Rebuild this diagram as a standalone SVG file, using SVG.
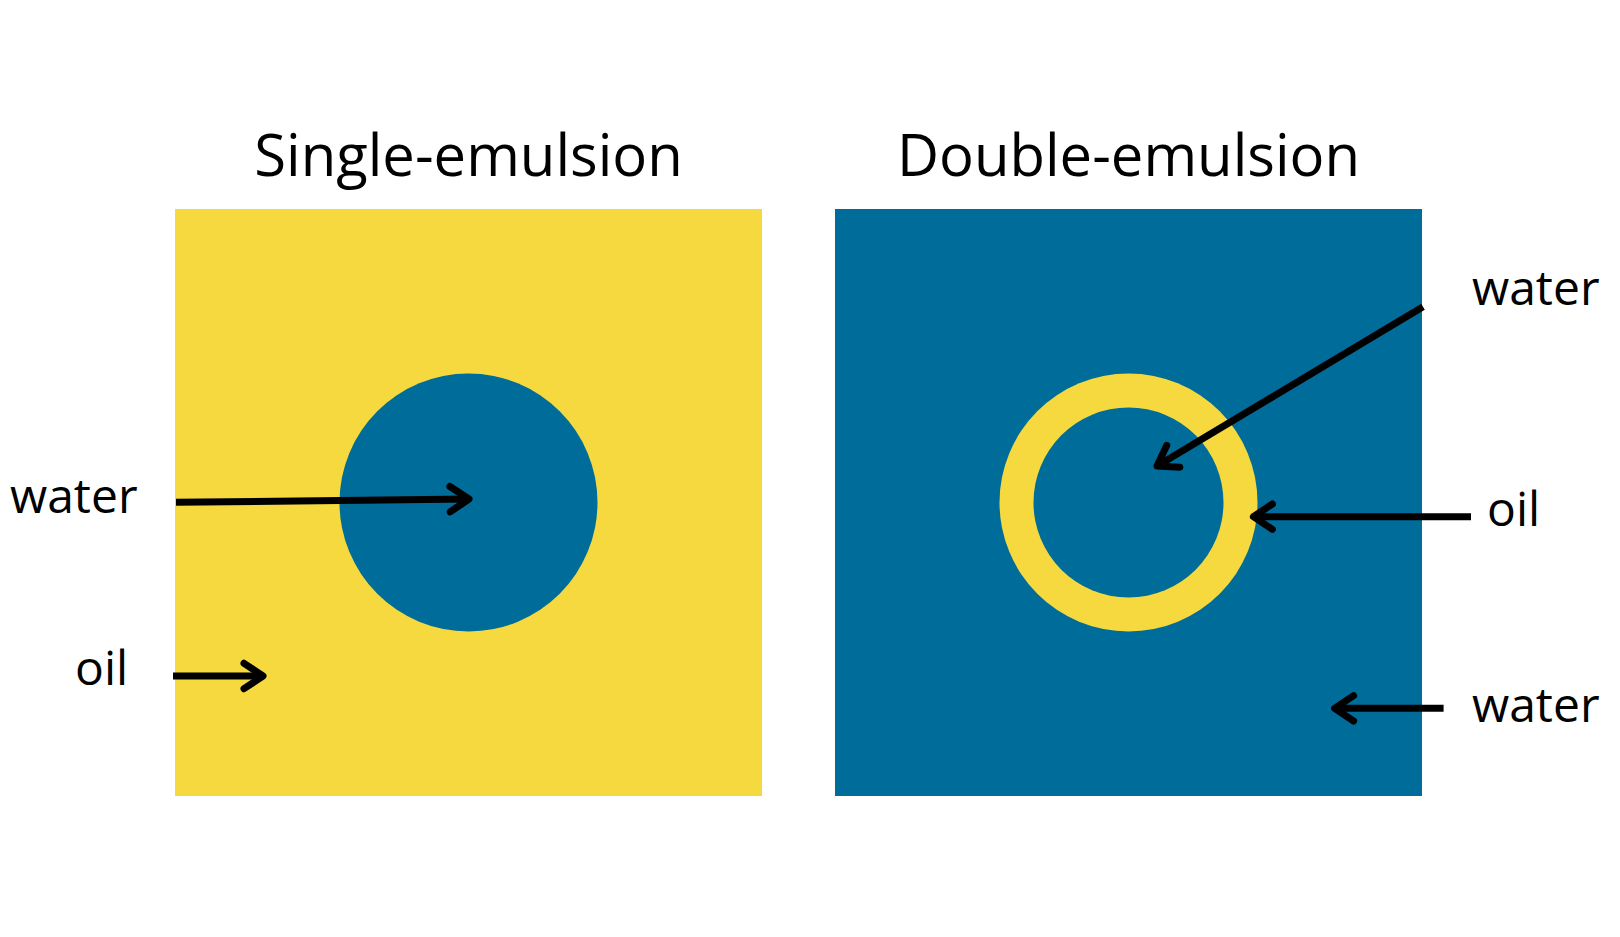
<svg xmlns="http://www.w3.org/2000/svg" width="1620" height="937" viewBox="0 0 1620 937">
<style>
.title{font-family:"Open Sans","Liberation Sans",sans-serif;font-size:58px;fill:#000;}
.lbl{font-family:"Open Sans","Liberation Sans",sans-serif;font-size:48px;fill:#000;}
.conn{stroke:#000;stroke-width:7;fill:none;}
.yellow{fill:#F5D93F;}
.blue{fill:#006C9A;}
</style>
<defs>
<marker id="chev" markerUnits="userSpaceOnUse" markerWidth="40" markerHeight="40" refX="0" refY="0" viewBox="-25 -20 40 40" orient="auto" overflow="visible">
<path d="M-19,-12.7 L0,0 L-19,12.7" fill="none" stroke="#000" stroke-width="7" stroke-linecap="round" stroke-linejoin="round"/>
</marker>
</defs>
<rect width="1620" height="937" fill="#fff"/>
<g id="single">
<text class="title" x="468.5" y="176" text-anchor="middle">Single-emulsion</text>
<rect class="yellow" x="175" y="209" width="587" height="587"/>
<circle class="blue" cx="468.5" cy="502.5" r="129"/>
</g>
<g id="double">
<text class="title" x="1128.5" y="176" text-anchor="middle">Double-emulsion</text>
<rect class="blue" x="835" y="209" width="587" height="587"/>
<circle class="yellow" cx="1128.5" cy="502.5" r="129"/>
<circle class="blue" cx="1128.5" cy="502.5" r="95"/>
</g>
<g id="labels">
<text class="lbl" x="10" y="513">water</text>
<text class="lbl" x="75" y="685">oil</text>
<text class="lbl" x="1472" y="305">water</text>
<text class="lbl" x="1487" y="526">oil</text>
<text class="lbl" x="1472" y="722">water</text>
</g>
<g id="connectors" class="conn">
<line x1="176" y1="502.3" x2="469" y2="499" marker-end="url(#chev)"/>
<line x1="173" y1="676" x2="263" y2="676" marker-end="url(#chev)"/>
<line x1="1423" y1="306.7" x2="1157" y2="466" marker-end="url(#chev)"/>
<line x1="1471" y1="516.7" x2="1253.4" y2="516.7" marker-end="url(#chev)"/>
<line x1="1443.6" y1="708.3" x2="1334.6" y2="708.3" marker-end="url(#chev)"/>
</g>
</svg>
